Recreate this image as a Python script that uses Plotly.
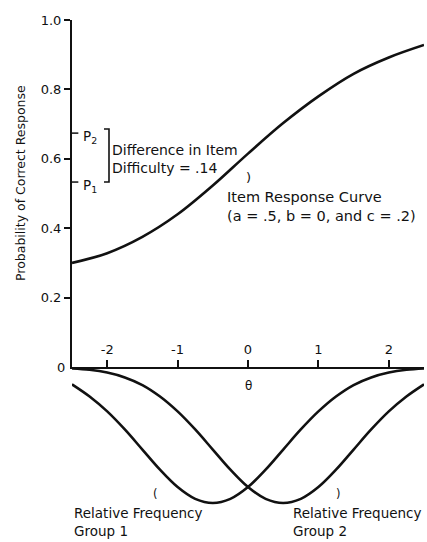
import plotly.graph_objects as go

# ---- data ----
theta_irc = [-2.5, -2.0, -1.5, -1.0, -0.5, 0.0, 0.5, 1.0, 1.5, 2.0, 2.5]
p_correct = [0.300, 0.328, 0.375, 0.440, 0.523, 0.615, 0.703, 0.780, 0.845, 0.892, 0.928]

theta_freq = [-2.5, -2.25, -2.0, -1.75, -1.5, -1.25, -1.0, -0.75, -0.5, -0.25, 0.0,
              0.25, 0.5, 0.75, 1.0, 1.25, 1.5, 1.75, 2.0, 2.25, 2.5]
freq_group1 = [0.050, 0.085, 0.128, 0.180, 0.238, 0.296, 0.346, 0.380, 0.392, 0.380, 0.346,
               0.296, 0.238, 0.180, 0.128, 0.085, 0.052, 0.030, 0.016, 0.008, 0.004]
freq_group2 = [0.004, 0.008, 0.016, 0.030, 0.052, 0.085, 0.128, 0.180, 0.238, 0.296, 0.346,
               0.380, 0.392, 0.380, 0.346, 0.296, 0.238, 0.180, 0.128, 0.085, 0.050]

p1_value = 0.533
p2_value = 0.674

y_tickvals = [0.2, 0.4, 0.6, 0.8, 1.0]
y_ticktext = ["0.2", "0.4", "0.6", "0.8", "1.0"]
x_tickvals = [-2, -1, 0, 1, 2]
x_ticktext = ["-2", "-1", "0", "1", "2"]

FONT = "DejaVu Sans"
INK = "#111111"

fig = go.Figure()
fig.add_trace(go.Scatter(x=theta_irc, y=p_correct, mode="lines",
                         line=dict(color=INK, width=2.6, shape="spline"),
                         xaxis="x", yaxis="y", showlegend=False, hoverinfo="skip"))
fig.add_trace(go.Scatter(x=theta_freq, y=[-v for v in freq_group1], mode="lines",
                         line=dict(color=INK, width=2.6, shape="spline"),
                         xaxis="x2", yaxis="y2", showlegend=False, hoverinfo="skip"))
fig.add_trace(go.Scatter(x=theta_freq, y=[-v for v in freq_group2], mode="lines",
                         line=dict(color=INK, width=2.6, shape="spline"),
                         xaxis="x2", yaxis="y2", showlegend=False, hoverinfo="skip"))

D = 173 / 520.0
bottom_range = -173 / 347.0

tf = dict(family=FONT, size=13, color=INK)
fig.update_layout(
    width=427, height=542,
    margin=dict(l=72, r=3, t=20, b=2),
    paper_bgcolor="white", plot_bgcolor="white",
    showlegend=False,
    xaxis=dict(domain=[0, 1], range=[-2.5, 2.5], anchor="y",
               showline=True, linecolor=INK, linewidth=2,
               ticks="inside", ticklen=7, tickwidth=2, tickcolor=INK,
               tickvals=x_tickvals, ticktext=x_ticktext,
               ticklabelposition="inside", ticklabelstandoff=3, tickfont=tf,
               showgrid=False, zeroline=False),
    yaxis=dict(domain=[D, 1], range=[0, 1], anchor="x",
               showline=True, linecolor=INK, linewidth=2,
               ticks="outside", ticklen=6, tickwidth=2, tickcolor=INK,
               tickvals=y_tickvals, ticktext=y_ticktext, tickfont=tf,
               showgrid=False, zeroline=False),
    xaxis2=dict(domain=[0, 1], range=[-2.5, 2.5], anchor="y2", matches="x",
                visible=False),
    yaxis2=dict(domain=[0, D], range=[bottom_range, 0], anchor="x2",
                visible=False),
)

ann = []
def add(text, x, y, size, xref="x", yref="y", xanchor="left", yanchor="middle", **kw):
    ann.append(dict(text=text, x=x, y=y, xref=xref, yref=yref, xanchor=xanchor,
                    yanchor=yanchor, showarrow=False,
                    font=dict(family=FONT, size=size, color=INK), borderpad=0,
                    align="left", **kw))

add("0", -0.017, 0.0, 13, xref="paper", xanchor="right")
add("P<sub>2</sub>", -2.36, p2_value - 0.012, 13.5)
add("P<sub>1</sub>", -2.36, p1_value - 0.012, 13.5)
add("Difference in Item<br>Difficulty = .14", -1.95, 0.598, 14)
add(")", 0.0, 0.545, 13, xanchor="center")
add("Item Response Curve<br>(a = .5, b = 0, and c = .2)", -0.31, 0.462, 14.5)
add("θ", 0.0, -0.055, 12, xref="x2", yref="y2", xanchor="center")
add("(", -1.31, -0.366, 11.5, xref="x2", yref="y2", xanchor="center")
add(")", 1.28, -0.366, 11.5, xref="x2", yref="y2", xanchor="center")
add("Relative Frequency<br>Group 1", -2.49, -0.447, 13.5, xref="x2", yref="y2")
add("Relative Frequency<br>Group 2", 0.62, -0.447, 13.5, xref="x2", yref="y2")
add("Probability of Correct Response", -0.148, 0.53, 12.5, xref="paper",
    xanchor="center", textangle=-90)
fig.update_layout(annotations=ann)

shapes = []
for pv in [p1_value, p2_value]:
    shapes.append(dict(type="line", xref="paper", yref="y", x0=0, x1=0.018, y0=pv, y1=pv,
                       line=dict(color=INK, width=1.5)))
bx0, bx1 = 32 / 352.0, 37 / 352.0
top = p2_value + 0.012
shapes.append(dict(type="path", xref="paper", yref="y",
                   path=f"M {bx0},{top} L {bx1},{top} L {bx1},{p1_value} L {bx0},{p1_value}",
                   line=dict(color=INK, width=1.6)))
fig.update_layout(shapes=shapes)

fig.write_html("out.html", config={"displayModeBar": False},
               post_script="document.body.style.margin='0';document.body.style.overflow='hidden';")
